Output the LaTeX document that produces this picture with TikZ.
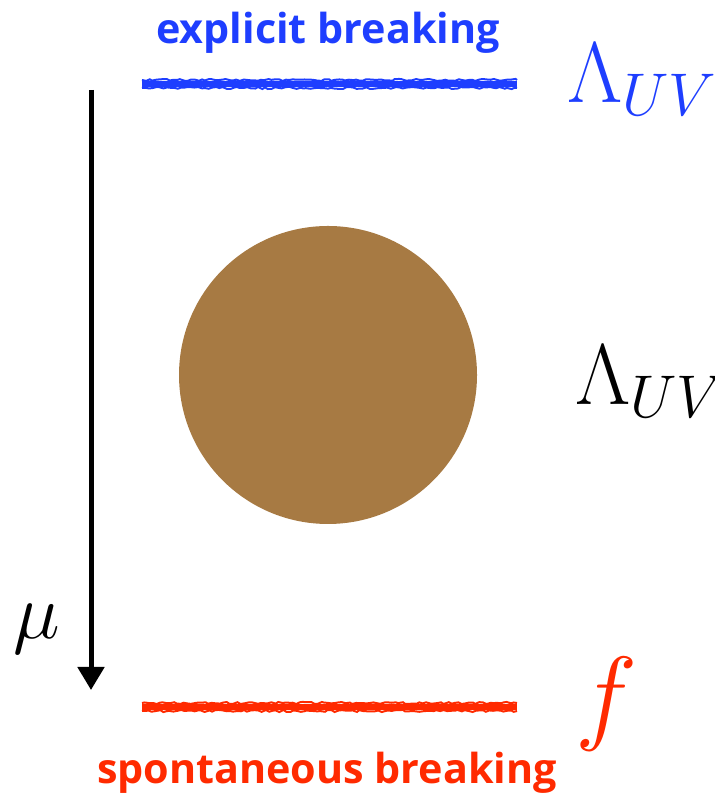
\RequirePackage{fix-cm}
\documentclass[tikz,border=0pt]{standalone}
\usepackage{fontspec}
\setsansfont{Open Sans}
\usepackage{tikz}
\usetikzlibrary{arrows.meta,decorations.pathmorphing}

\definecolor{uvblue}{RGB}{30,62,255}
\definecolor{irred}{RGB}{255,42,0}
\definecolor{blobbrown}{RGB}{167,122,67}

\tikzset{
  scalebar/.style={line width=0.13cm},
  crayon/.style={line width=0.04cm, decorate, decoration={random steps, segment length=2pt, amplitude=0.6pt}},
  breaklabel/.style={font=\sffamily\bfseries\fontsize{23.5}{26}\selectfont, anchor=base, inner sep=0pt},
  scalelabel/.style={font=\fontsize{49}{56}\selectfont, anchor=base west, inner sep=0pt}
}

\begin{document}
\begin{tikzpicture}
  \useasboundingbox (0,0) rectangle (14.28,15.86);
  \pgfmathsetseed{7}

  % Scale lines
  \coordinate (uvL) at (2.84,14.18);
  \coordinate (uvR) at (10.34,14.18);
  \coordinate (irL) at (2.84,1.72);
  \coordinate (irR) at (10.34,1.72);
  \draw[scalebar, uvblue] (uvL) -- (uvR);
  \draw[scalebar, irred] (irL) -- (irR);
  \foreach \dy in {-0.08,0.08}{
    \draw[crayon, uvblue] ([yshift=\dy cm]uvL) -- ([yshift=\dy cm]uvR);
    \draw[crayon, irred] ([yshift=\dy cm]irL) -- ([yshift=\dy cm]irR);
  }

  % Labels
  \node[breaklabel, text=uvblue] (expl) at (6.56,14.98) {explicit breaking};
  \node[breaklabel, text=irred] (spon) at (6.54,0.2) {spontaneous breaking};
  \node[scalelabel, text=uvblue] (lamtop) at (11.34,13.8) {$\Lambda_{UV}$};
  \node[scalelabel] (lammid) at (11.5,7.76) {$\Lambda_{UV}$};
  \node[font=\fontsize{60}{66}\selectfont, anchor=base, inner sep=0pt, text=irred] (fscale) at (12.14,1.24) {$f$};

  % Blob
  \fill[blobbrown] (6.56,8.36) circle (2.98);

  % RG flow arrow
  \coordinate (flowtop) at (1.82,14.06);
  \coordinate (flowbot) at (1.82,2.06);
  \draw[line width=0.1cm, -{Triangle[length=0.46cm, width=0.52cm]}] (flowtop) -- (flowbot);
  \node[font=\fontsize{45}{50}\selectfont, anchor=base, inner sep=0pt] (mu) at (0.74,3.08) {$\mu$};
\end{tikzpicture}
\end{document}
